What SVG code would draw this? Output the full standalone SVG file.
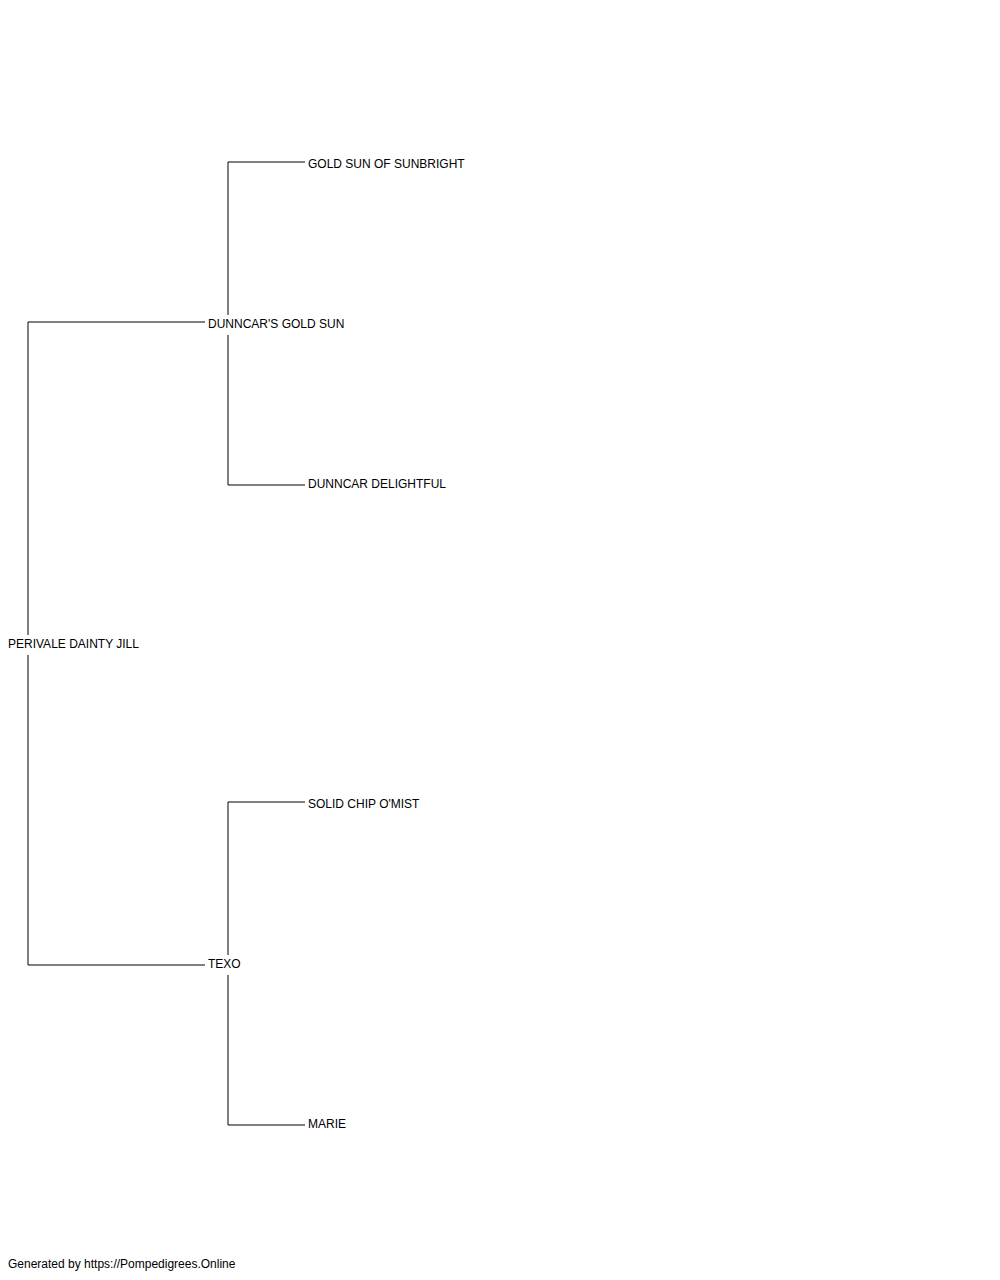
<svg xmlns="http://www.w3.org/2000/svg" width="1000" height="1280" viewBox="0 0 1000 1280">
<style>
.c{stroke:#000;stroke-width:1;fill:none}
.t{font-family:"Liberation Sans",Arial,sans-serif;font-size:12px;fill:#000}
</style>
<rect width="1000" height="1280" fill="#fff"/>
<g id="connectors">
<path class="c" d="M28,635V322H205"/>
<path class="c" d="M28,655V965H205"/>
<path class="c" d="M228,315V162H305"/>
<path class="c" d="M228,335V485H305"/>
<path class="c" d="M228,955V802H305"/>
<path class="c" d="M228,975V1125H305"/>
</g>
<g id="n1"><text class="t" x="8" y="648">PERIVALE DAINTY JILL</text></g>
<g id="n2"><text class="t" x="208" y="328">DUNNCAR'S GOLD SUN</text></g>
<g id="n3"><text class="t" x="208" y="968">TEXO</text></g>
<g id="n4"><text class="t" x="308" y="168">GOLD SUN OF SUNBRIGHT</text></g>
<g id="n5"><text class="t" x="308" y="488">DUNNCAR DELIGHTFUL</text></g>
<g id="n6"><text class="t" x="308" y="808">SOLID CHIP O'MIST</text></g>
<g id="n7"><text class="t" x="308" y="1128">MARIE</text></g>
<g id="footer"><text class="t" x="8" y="1268">Generated by https://Pompedigrees.Online</text></g>
</svg>
